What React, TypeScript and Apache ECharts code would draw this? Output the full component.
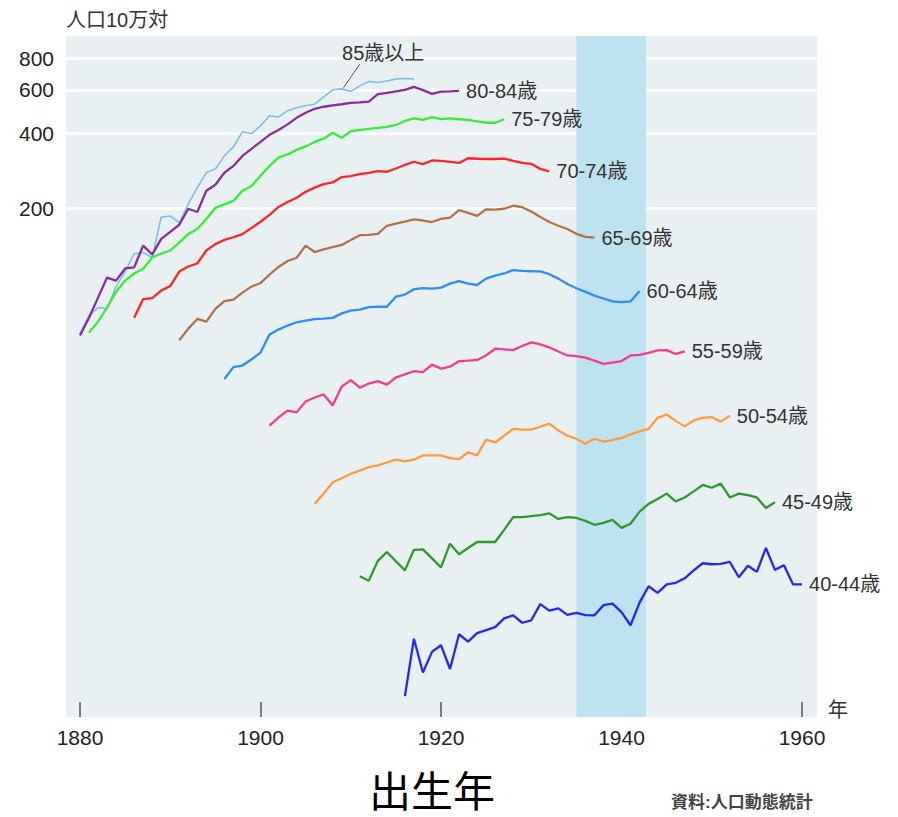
import React, { useEffect, useRef } from "react";
import * as echarts from "echarts";

// ---- data (rate per 100,000 population, by birth year) ----
const seriesNames = ["85歳以上", "80-84歳", "75-79歳", "70-74歳", "65-69歳", "60-64歳", "55-59歳", "50-54歳", "45-49歳", "40-44歳"];
const startYears = [1880, 1880, 1881, 1886, 1891, 1896, 1901, 1906, 1911, 1916];

const s85 = [63.1, 74.5, 80.3, 79.5, 97.4, 112, 132, 133.5, 127.5, 185, 187, 176, 209, 243, 279, 289, 326, 354, 407, 400, 430, 472, 467, 494, 508, 518, 525, 562, 600, 605, 591, 622, 648, 642, 651, 663, 666, 663];
const s80 = [62.0, 73.1, 88.0, 105.9, 103, 115.2, 116.3, 142.3, 131, 151.4, 161.5, 172.5, 200, 194, 236, 249.6, 278.8, 297, 325.6, 347.7, 370.6, 396, 414.1, 436, 463, 485, 503.5, 513, 520, 525, 532, 534, 537.5, 576.5, 583, 591, 599.5, 616, 598, 578, 590, 591, 594];
const s75 = [63.7, 70.5, 80.3, 93.0, 103, 110, 114.9, 127.5, 132.3, 136, 146.3, 158.5, 166, 182, 201.5, 208.2, 215, 236, 246.4, 271.2, 297, 321, 330.2, 344.5, 355.6, 370.6, 382, 403.5, 385, 409, 414, 418.3, 422, 425.7, 433.6, 450, 460.5, 454.4, 466.3, 457.7, 460.5, 457, 454.4, 448, 442.6, 442.6, 457];
const s70 = [73.1, 86.8, 87.6, 93.9, 97.9, 112, 117.3, 120.6, 136, 144.3, 150, 153.7, 158.2, 167.3, 177.4, 188.9, 203.3, 213, 221.3, 233.8, 243, 251.2, 255, 268, 270.4, 275.2, 278.8, 283.2, 281.4, 290, 299.7, 308.7, 302, 312.4, 311, 308.1, 305.3, 318.8, 317.3, 316.6, 316.6, 318, 311, 305.3, 302.9, 289, 282.7];
const s65 = [59.4, 66.1, 72.3, 70.5, 79.3, 85.2, 86.4, 92.2, 97.4, 100.7, 108.9, 116.8, 123.4, 127.2, 142.3, 134.1, 137.3, 140.4, 143.1, 149.7, 156.7, 157.2, 158.6, 170.9, 174.4, 177.4, 181.3, 179.4, 176.9, 182, 184.3, 197.5, 192.4, 187.2, 199, 198.2, 200, 205.6, 202.8, 195.1, 185.4, 176.9, 170.9, 165.9, 158.6, 154.2, 153.2];
const s60 = [41.5, 46.3, 47.0, 49.7, 53.0, 62.6, 65.5, 68.0, 70.1, 71.2, 72.1, 72.5, 73.0, 76.1, 78.0, 78.7, 80.6, 80.9, 80.9, 88.8, 90.5, 95.1, 96.1, 95.6, 96.5, 100.2, 102.5, 100.2, 98.9, 104.9, 107.9, 110, 113.5, 112.7, 112.3, 112.2, 109.3, 104.9, 99.8, 96, 92.8, 89.6, 87.3, 85.0, 84.4, 85.0, 93.5];
const s55 = [27.0, 29.1, 31.0, 30.5, 33.7, 35.0, 36.0, 32.5, 38.7, 41.1, 38.3, 39.8, 40.7, 39.4, 42.1, 43.3, 44.6, 44.2, 47.4, 45.7, 46.5, 49.0, 49.2, 49.5, 51.6, 54.9, 54.6, 54.2, 56.3, 58.2, 57.1, 55.6, 53.5, 51.6, 51.3, 50.6, 49.2, 47.7, 48.3, 49.0, 51.6, 51.9, 52.8, 54.1, 54.2, 52.3, 53.6];
const s50 = [13.1, 14.4, 16.0, 16.6, 17.3, 17.8, 18.4, 18.7, 19.2, 19.7, 19.4, 19.7, 20.5, 20.5, 20.5, 20.0, 19.8, 21.1, 20.5, 23.7, 23.1, 24.6, 26.2, 26.0, 26.0, 26.7, 27.5, 25.8, 24.6, 23.9, 22.8, 23.9, 23.3, 23.6, 24.1, 24.9, 25.6, 26.2, 29.0, 29.9, 28.2, 26.8, 28.3, 29.0, 29.2, 28.0, 29.6];
const s45 = [6.71, 6.44, 7.74, 8.40, 7.71, 7.09, 8.57, 8.61, 7.92, 7.29, 9.07, 8.23, 8.72, 9.21, 9.21, 9.21, 10.3, 11.6, 11.6, 11.7, 11.8, 12.0, 11.4, 11.6, 11.5, 11.2, 10.8, 11.0, 11.3, 10.5, 10.9, 12.2, 13.1, 13.7, 14.4, 13.4, 13.9, 14.7, 15.6, 15.2, 15.8, 13.9, 14.4, 14.2, 13.9, 12.6, 13.3];
const s40 = [2.22, 3.77, 2.76, 3.34, 3.55, 2.85, 3.93, 3.67, 3.97, 4.08, 4.20, 4.55, 4.68, 4.37, 4.47, 5.19, 4.89, 4.99, 4.70, 4.79, 4.69, 4.68, 5.14, 5.21, 4.82, 4.27, 5.26, 6.12, 5.76, 6.23, 6.32, 6.59, 7.09, 7.57, 7.50, 7.52, 7.66, 6.65, 7.40, 6.99, 8.72, 7.12, 7.43, 6.23, 6.23];
const seriesValues = [s85, s80, s75, s70, s65, s60, s55, s50, s45, s40];

const yTickValues = [200, 400, 600, 800];
const xTickValues = [1880, 1900, 1920, 1940, 1960];
const shadedBand = [1935, 1942.7];
// annotation for 85+ (leader line from curve to label)
const label85Anchor = [1909.2, 612];
const label85LineEnd = [1911.0, 760];
const label85TextPos = [1913.6, 845];

const colors = ["#7fbbe9", "#8b2c9c", "#33ee33", "#ff2424", "#b3714d", "#2b8cff", "#f5398f", "#ff9a3d", "#2a9a2a", "#2424ff"];
const FONT = "'Liberation Sans','Noto Sans CJK JP',sans-serif";

export default function App() {
  const ref = useRef<HTMLDivElement>(null);
  useEffect(() => {
    if (!ref.current) return;
    const chart = echarts.init(ref.current, undefined, { renderer: "svg" });

    const lineSeries: any[] = seriesValues.map((vals, i) => ({
      type: "line",
      name: seriesNames[i],
      data: vals.map((v, k) => [startYears[i] + k, v]),
      showSymbol: false,
      symbol: "none",
      z: 3,
      lineStyle: { color: colors[i], width: i === 0 ? 1.6 : 2.3 },
      itemStyle: { color: colors[i] },
      endLabel: {
        show: i !== 0,
        formatter: seriesNames[i],
        distance: 7,
        fontSize: 20,
        fontFamily: FONT,
        color: "#333",
      },
      ...(i === 0
        ? {
            markLine: {
              silent: true,
              z: 5,
              symbol: "none",
              lineStyle: { color: "#555", width: 1, type: "solid" },
              label: { show: false },
              data: [[{ coord: label85Anchor }, { coord: label85LineEnd }]],
            },
            markPoint: {
              silent: true,
              symbol: "circle",
              symbolSize: 0,
              label: {
                show: true,
                position: "inside",
                formatter: seriesNames[0],
                fontSize: 20,
                fontFamily: FONT,
                color: "#333",
              },
              data: [{ coord: label85TextPos }],
            },
          }
        : {}),
    }));

    const helperSeries: any[] = [
      {
        type: "line",
        name: "grid",
        data: [],
        z: 1,
        markLine: {
          silent: true,
          z: 1,
          symbol: "none",
          lineStyle: { color: "#ffffff", width: 2.5, type: "solid" },
          label: { show: false },
          data: yTickValues.map((v) => ({ yAxis: v })),
        },
      },
      {
        type: "line",
        name: "band",
        data: [],
        z: 2,
        markArea: {
          silent: true,
          z: 2,
          itemStyle: { color: "#bde3f0" },
          data: [[{ xAxis: shadedBand[0] }, { xAxis: shadedBand[1] }]],
        },
      },
    ];

    chart.setOption({
      animation: false,
      grid: {
        left: 66,
        right: 81,
        top: 36,
        bottom: 100,
        show: true,
        backgroundColor: "#e8f0f2",
        borderWidth: 0,
      },
      xAxis: {
        type: "value",
        min: 1878.45,
        max: 1961.66,
        axisLine: { show: false },
        splitLine: { show: false },
        axisTick: {
          show: true,
          inside: true,
          length: 15,
          customValues: xTickValues,
          lineStyle: { color: "#555", width: 1.5 },
        },
        axisLabel: {
          customValues: xTickValues,
          formatter: (v: number) => String(Math.round(v)),
          fontSize: 21,
          fontFamily: FONT,
          color: "#222",
          margin: 10,
        },
      },
      yAxis: {
        type: "log",
        min: 1.83,
        max: 986,
        axisLine: { show: false },
        axisTick: { show: false },
        splitLine: { show: false },
        minorSplitLine: { show: false },
        axisLabel: {
          customValues: yTickValues,
          formatter: (v: number) => String(Math.round(v)),
          fontSize: 21,
          fontFamily: FONT,
          color: "#222",
          margin: 12,
        },
      },
      graphic: [
        { type: "text", x: 66, y: 20, style: { text: "人口10万対", font: `20px ${FONT}`, fill: "#333", textVerticalAlign: "middle" } },
        { type: "text", x: 828, y: 710, style: { text: "年", font: `20px ${FONT}`, fill: "#333", textVerticalAlign: "middle" } },
        { type: "text", x: 432, y: 792, style: { text: "出生年", font: `42px ${FONT}`, fill: "#000", textAlign: "center", textVerticalAlign: "middle" } },
        { type: "text", x: 671, y: 802, style: { text: "資料:人口動態統計", font: `bold 17px ${FONT}`, fill: "#444", textVerticalAlign: "middle" } },
      ],
      series: [...helperSeries, ...lineSeries],
    });
    return () => chart.dispose();
  }, []);
  return <div ref={ref} style={{ position: "absolute", left: 0, top: 0, width: 898, height: 817 }} />;
}
